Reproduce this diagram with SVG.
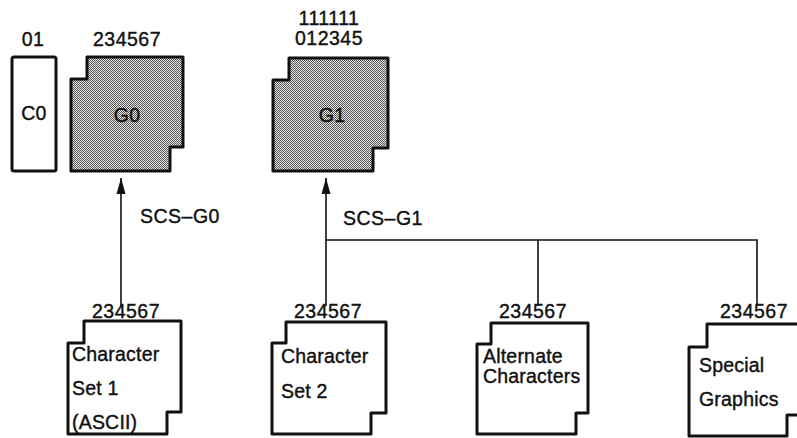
<svg xmlns="http://www.w3.org/2000/svg" width="797" height="438" viewBox="0 0 797 438">
<style>
text{font-family:"Liberation Sans",Arial,sans-serif;fill:#111;stroke:#111;stroke-width:0.4px;}
.lbl{font-size:19.5px;letter-spacing:0.5px;}
.in{font-size:19.5px;letter-spacing:0.2px;}
.box{fill:#fff;stroke:#111;stroke-width:3;stroke-linejoin:round;}
.shade{fill:url(#dots);stroke:#111;stroke-width:3;stroke-linejoin:round;}
.conn{fill:none;stroke:#111;stroke-width:1.6;}
</style>
<defs>
<pattern id="dots" width="2" height="2" patternUnits="userSpaceOnUse">
<rect width="2" height="2" fill="#e6e6e6"/>
<rect width="1" height="1" fill="#555"/>
<rect x="1" y="1" width="1" height="1" fill="#555"/>
</pattern>
<marker id="arr" viewBox="0 0 16 20" refX="16" refY="10" markerWidth="16" markerHeight="20" markerUnits="userSpaceOnUse" orient="auto">
<path d="M0,5.5 L16,10 L0,14.5 Z" fill="#111"/>
</marker>
</defs>

<g id="C0">
<text class="lbl" x="33" y="46" text-anchor="middle">01</text>
<rect class="box" x="12" y="57" width="44" height="114" rx="2"/>
<text class="in" x="34" y="120" text-anchor="middle">C0</text>
</g>

<g id="G0">
<text class="lbl" x="127" y="46" text-anchor="middle">234567</text>
<path class="shade" d="M87,57 H183 V147 H170 V171 H71 V79 H87 Z"/>
<text class="in" x="127" y="122" text-anchor="middle">G0</text>
</g>

<g id="G1">
<text class="lbl" x="329" y="25" text-anchor="middle">111111</text>
<text class="lbl" x="329" y="45" text-anchor="middle">012345</text>
<path class="shade" d="M289,58 H388 V148 H373 V171 H273 V80 H289 Z"/>
<text class="in" x="332" y="122" text-anchor="middle">G1</text>
</g>

<g id="connectors">
<line class="conn" x1="121" y1="306" x2="121" y2="178" marker-end="url(#arr)"/>
<line class="conn" x1="326" y1="306" x2="326" y2="178" marker-end="url(#arr)"/>
<polyline class="conn" points="326,240 757,240 757,306"/>
<line class="conn" x1="538" y1="240" x2="538" y2="306"/>
<text class="lbl" x="140" y="223">SCS–G0</text>
<text class="lbl" x="343" y="225">SCS–G1</text>
</g>

<g id="set1">
<text class="lbl" x="126" y="318" text-anchor="middle">234567</text>
<path class="box" d="M84,321 H181 V412 H167 V434 H68 V343 H84 Z"/>
<text class="in" x="72" y="361">Character</text>
<text class="in" x="72" y="395">Set 1</text>
<text class="in" x="72" y="429">(ASCII)</text>
</g>

<g id="set2">
<text class="lbl" x="328" y="318" text-anchor="middle">234567</text>
<path class="box" d="M286,322 H386 V413 H371 V434 H272 V343 H286 Z"/>
<text class="in" x="281" y="363">Character</text>
<text class="in" x="281" y="398">Set 2</text>
</g>

<g id="alternate">
<text class="lbl" x="533" y="318" text-anchor="middle">234567</text>
<path class="box" d="M491,323 H588 V413 H576 V434 H477 V344 H491 Z"/>
<text class="in" x="483" y="363">Alternate</text>
<text class="in" x="483" y="383">Characters</text>
</g>

<g id="special">
<text class="lbl" x="754" y="318" text-anchor="middle">234567</text>
<path class="box" d="M707,324 H802 V415 H787 V436 H689 V347 H707 Z"/>
<text class="in" x="699" y="372">Special</text>
<text class="in" x="699" y="406">Graphics</text>
</g>
</svg>
